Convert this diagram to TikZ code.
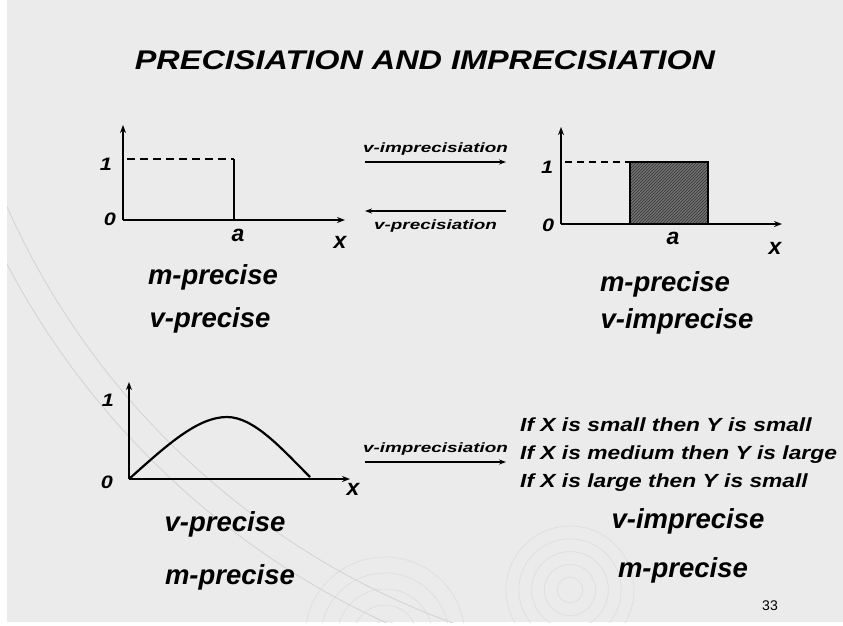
\documentclass[tikz,border=0pt]{standalone}
\usepackage{fontspec}
\setmainfont{Liberation Sans}
\newfontfamily\widesans[FakeStretch=1.2]{Liberation Sans}
\newfontfamily\xwidesans[FakeStretch=1.4]{Liberation Sans}
\usepackage{tikz}
\usetikzlibrary{arrows.meta,patterns}
\definecolor{slidebg}{rgb}{0.92,0.92,0.92}
\definecolor{swirlgray}{rgb}{0.87,0.87,0.87}
\definecolor{barfill}{rgb}{0.45,0.45,0.45}
\tikzset{
  ttl/.style={font=\widesans\fontsize{27}{32}\selectfont\bfseries\itshape, inner sep=0pt},
  lbl/.style={font=\fontsize{27.5}{32}\selectfont\bfseries\itshape, inner sep=0pt},
  axnum/.style={font=\widesans\fontsize{18}{22}\selectfont\bfseries\itshape, inner sep=0pt},
  axvar/.style={font=\fontsize{23}{26}\selectfont\bfseries\itshape, inner sep=0pt},
  arrlbl/.style={font=\xwidesans\fontsize{13.5}{16}\selectfont\bfseries\itshape, inner sep=0pt},
  rulelbl/.style={font=\widesans\fontsize{19}{28}\selectfont\bfseries\itshape, inner sep=0pt, align=left},
  axline/.style={line width=2pt, -{Stealth[length=8pt,width=6pt]}},
  transarr/.style={line width=1.6pt, -{Stealth[length=7pt,width=5pt]}}
}

\begin{document}
\begin{tikzpicture}[x=1pt,y=-1pt]
  % slide background
  \useasboundingbox (0,0) rectangle (843,625);
  \fill[white] (0,0) rectangle (843,625);
  \fill[slidebg] (7,0) rectangle (843,622);
  \begin{scope}
    \clip (7,0) rectangle (843,622);
    \foreach \r in {16,32,48,64,80} {
      \draw[swirlgray, line width=0.7pt] (385,637) circle (\r);
      \draw[swirlgray, line width=0.7pt] (570,590) circle (\r*0.8);
    }
    \foreach \r in {780,805}
      \draw[swirlgray!85!gray, line width=0.7pt] (720,-110) circle (\r);
  \end{scope}

  \node[ttl] (title) at (425,60) {PRECISIATION AND IMPRECISIATION};

  % top left: crisp value a
  \coordinate (oA) at (123,220);
  \coordinate (yA) at (123,125);
  \coordinate (xA) at (345,220);
  \coordinate (lA) at (127,159);
  \coordinate (hA) at (234,159);
  \coordinate (aA) at (234,220);
  \draw[axline] (oA) -- (yA);
  \draw[axline] (oA) -- (xA);
  \draw[line width=1.8pt, dash pattern=on 8pt off 5pt] (lA) -- (hA);
  \draw[line width=2pt] (hA) -- (aA);
  \node[axnum] (oneA) at (106,164) {1};
  \node[axnum] (zeroA) at (110,219) {0};
  \node[axvar] (valA) at (238,235) {a};
  \node[axvar] (varA) at (340,242) {x};
  \node[lbl] (mpA) at (213,277) {m-precise};
  \node[lbl] (vpA) at (210,320) {v-precise};

  % top right: interval around a
  \coordinate (oB) at (561,224);
  \coordinate (yB) at (561,127);
  \coordinate (xB) at (782,224);
  \coordinate (lB) at (565,162);
  \fill[barfill] (630,162) rectangle (708,224);
  \fill[pattern=north east lines, pattern color=black!80] (630,162) rectangle (708,224);
  \draw[line width=1.6pt] (630,224) -- (630,162) -- (708,162) -- (708,224);
  \coordinate (hB) at (630,162);
  \draw[axline] (oB) -- (yB);
  \draw[axline] (oB) -- (xB);
  \draw[line width=1.2pt, dash pattern=on 7pt off 5pt] (lB) -- (hB);
  \node[axnum] (oneB) at (547,167) {1};
  \node[axnum] (zeroB) at (548,225) {0};
  \node[axvar] (valB) at (673,238) {a};
  \node[axvar] (varB) at (775,248) {x};
  \node[lbl] (mpB) at (665,284) {m-precise};
  \node[lbl] (viB) at (677,321) {v-imprecise};

  % transitions between the two
  \coordinate (imS) at (365,162);
  \coordinate (imE) at (506,162);
  \coordinate (prS) at (506,211);
  \coordinate (prE) at (365,211);
  \draw[transarr] (imS) -- (imE) node[midway, above=6pt, arrlbl] (imLbl) {v-imprecisiation};
  \draw[transarr] (prS) -- (prE) node[midway, below=8pt, arrlbl] (prLbl) {v-precisiation};

  % bottom left: function
  \coordinate (oC) at (129,479);
  \coordinate (yC) at (129,382);
  \coordinate (xC) at (350,479);
  \draw[axline] (oC) -- (yC);
  \draw[axline] (oC) -- (xC);
  \draw[line width=2.2pt]
    (oC) .. controls (168,444) and (198,417) .. (227,417)
         .. controls (254,417) and (282,449) .. (310,477);
  \node[axnum] (oneC) at (108,400) {1};
  \node[axnum] (zeroC) at (107,482) {0};
  \node[axvar] (varC) at (353,489) {x};
  \node[lbl] (vpC) at (225,524) {v-precise};
  \node[lbl] (mpC) at (230,577) {m-precise};

  % bottom right: rule set
  \coordinate (ruS) at (365,462);
  \coordinate (ruE) at (506,462);
  \draw[transarr] (ruS) -- (ruE) node[midway, above=6pt, arrlbl] (ruLbl) {v-imprecisiation};
  \node[rulelbl, anchor=west] (rules) at (520,455)
    {If X is small then Y is small\\If X is medium then Y is large\\If X is large then Y is small};
  \node[lbl] (viD) at (688,521) {v-imprecise};
  \node[lbl] (mpD) at (683,570) {m-precise};

  \node[font=\fontsize{14}{16}\selectfont, inner sep=0pt] (page) at (770,606) {33};
\end{tikzpicture}
\end{document}
